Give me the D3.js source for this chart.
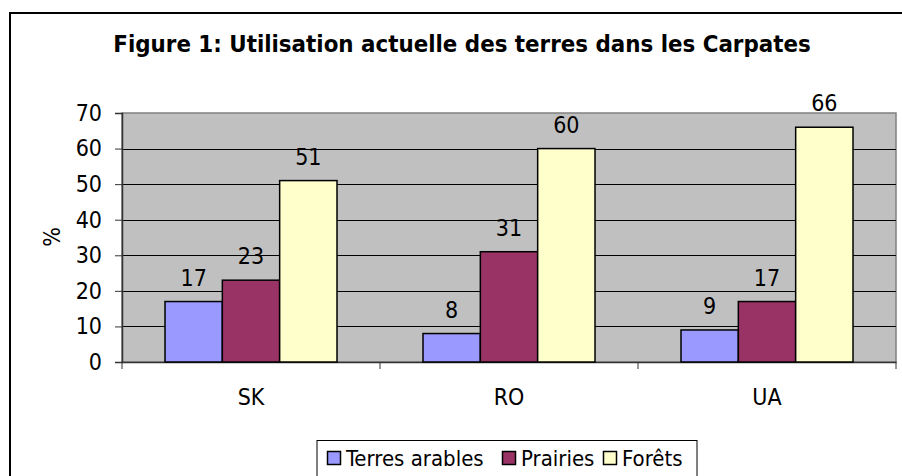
<!DOCTYPE html>
<html>
<head>
<meta charset="utf-8">
<script src="https://cdn.jsdelivr.net/npm/d3@7"></script>
<style>
  body { margin: 0; background: #fff; }
  svg text { font-family: "DejaVu Sans Condensed", "Liberation Sans", sans-serif; fill: #000; }
</style>
</head>
<body>
<div class="container"></div>
<script>
// data
var countries = ["SK", "RO", "UA"]
var series = ["Terres arables", "Prairies", "Forêts"]
var arables = [17, 8, 9]
var prairies = [23, 31, 17]
var forets = [51, 60, 66]
var yTicks = [0, 10, 20, 30, 40, 50, 60, 70]
var colors = ["#9999ff", "#993366", "#ffffcc"]

var values = [arables, prairies, forets]

var width = 902,
  height = 476,
  fontSize = 23;

var plot = { left: 122, right: 896, top: 113, bottom: 362 }

var svg = d3.select(".container").append("svg")
    .attr("width", width)
    .attr("height", height);

// outer chart frame (runs off the right/bottom edge like the original)
svg.append("rect")
  .attr("x", 10)
  .attr("y", 13)
  .attr("width", 900)
  .attr("height", 470)
  .attr("fill", "#fff")
  .attr("stroke", "#000")
  .attr("stroke-width", 2);

var x = d3.scaleBand()
  .domain(countries)
  .range([plot.left, plot.right])
  .paddingInner(1 / 3)
  .paddingOuter(1 / 6);

var xs = d3.scaleBand()
  .domain(series)
  .range([0, x.bandwidth()]);

var y = d3.scaleLinear()
  .domain([0, 70])
  .range([plot.bottom, plot.top]);

// plot area
svg.append("rect")
  .attr("x", plot.left)
  .attr("y", plot.top)
  .attr("width", plot.right - plot.left)
  .attr("height", plot.bottom - plot.top)
  .attr("fill", "#c0c0c0")
  .attr("stroke", "#808080")
  .attr("stroke-width", 1.5);

// gridlines
svg.append("g")
  .selectAll("line")
  .data(yTicks.filter(function(d) { return d > 0 && d < 70 }))
  .enter().append("line")
  .attr("x1", plot.left)
  .attr("x2", plot.right)
  .attr("y1", function(d) { return Math.round(y(d)) + 0.5 })
  .attr("y2", function(d) { return Math.round(y(d)) + 0.5 })
  .attr("stroke", "#000")
  .attr("stroke-width", 1);

// y axis
var yAxis = svg.append("g")
  .attr("transform", "translate(" + plot.left + ",0)")
  .call(d3.axisLeft(y).tickValues(yTicks).tickSize(7).tickPadding(13));

yAxis.select(".domain").attr("stroke", "#333").attr("stroke-width", 1.5);
yAxis.selectAll(".tick line").attr("stroke", "#333");
yAxis.selectAll(".tick text")
  .attr("font-size", fontSize)
  .attr("font-family", null)
  .attr("fill", "#000");

// x axis with ticks at category boundaries
var xAxis = svg.append("g")
  .attr("transform", "translate(0," + plot.bottom + ")")
  .call(d3.axisBottom(x).tickSize(0).tickPadding(27));

xAxis.select(".domain").attr("stroke", "#333").attr("stroke-width", 1.5);
xAxis.selectAll(".tick text")
  .attr("font-size", fontSize)
  .attr("font-family", null)
  .attr("fill", "#000");

var step = x.step();
xAxis.selectAll(".sep")
  .data(d3.range(countries.length + 1))
  .enter().append("line")
  .attr("x1", function(i) { return plot.left + i * step })
  .attr("x2", function(i) { return plot.left + i * step })
  .attr("y1", 0)
  .attr("y2", 7)
  .attr("stroke", "#333")
  .attr("stroke-width", 1);

// bars
var groups = svg.append("g")
  .selectAll("g")
  .data(countries)
  .enter().append("g")
  .attr("transform", function(d) { return "translate(" + x(d) + ",0)" });

function cells(c, i) {
  return series.map(function(s, j) { return { s: s, j: j, v: values[j][i] } })
}

groups.selectAll("rect")
  .data(cells)
  .enter().append("rect")
  .attr("x", function(d) { return xs(d.s) })
  .attr("y", function(d) { return y(d.v) })
  .attr("width", xs.bandwidth())
  .attr("height", function(d) { return y(0) - y(d.v) })
  .attr("fill", function(d) { return colors[d.j] })
  .attr("stroke", "#000")
  .attr("stroke-width", 1.5);

groups.selectAll("text")
  .data(cells)
  .enter().append("text")
  .attr("x", function(d) { return xs(d.s) + xs.bandwidth() / 2 })
  .attr("y", function(d) { return y(d.v) - 16 })
  .attr("text-anchor", "middle")
  .attr("font-size", fontSize)
  .text(function(d) { return d.v });

// y title
svg.append("text")
  .attr("transform", "translate(60,237) rotate(-90)")
  .attr("text-anchor", "middle")
  .attr("font-size", fontSize)
  .text("%");

// title
svg.append("text")
  .attr("x", 462)
  .attr("y", 52)
  .attr("text-anchor", "middle")
  .attr("font-size", 23.8)
  .attr("font-weight", "bold")
  .text("Figure 1: Utilisation actuelle des terres dans les Carpates");

// legend
var legend = svg.append("g");

legend.append("rect")
  .attr("x", 317)
  .attr("y", 440.5)
  .attr("width", 380)
  .attr("height", 60)
  .attr("fill", "#fff")
  .attr("stroke", "#000")
  .attr("stroke-width", 1);

var legendX = [327, 502, 603];

var items = legend.selectAll(".item")
  .data(series)
  .enter().append("g")
  .attr("transform", function(d, i) { return "translate(" + legendX[i] + ",0)" });

items.append("rect")
  .attr("x", 0.5)
  .attr("y", 451.5)
  .attr("width", 13)
  .attr("height", 13)
  .attr("fill", function(d, i) { return colors[i] })
  .attr("stroke", "#000")
  .attr("stroke-width", 1.5);

items.append("text")
  .attr("x", 19)
  .attr("y", 466)
  .attr("font-size", 22)
  .text(function(d) { return d });
</script>
</body>
</html>
